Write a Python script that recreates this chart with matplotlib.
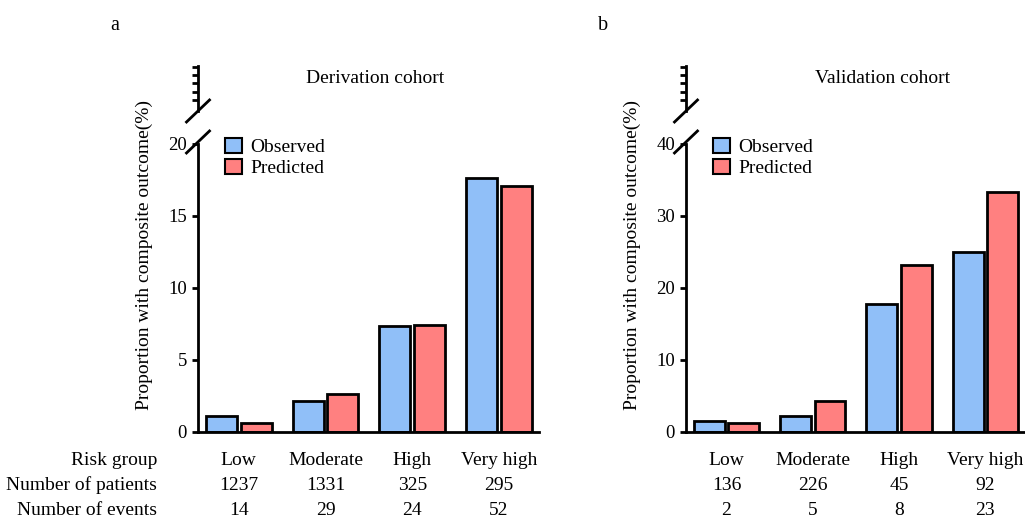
from matplotlib import pyplot as plt
import numpy as np

plt.rcParams['font.family'] = ['Liberation Serif', 'DejaVu Serif']

groups = ['Low', 'Moderate', 'High', 'Very high']

# derivation cohort
der_patients = [1237, 1331, 325, 295]
der_events = [14, 29, 24, 52]
der_observed = [1.13, 2.18, 7.38, 17.63]
der_predicted = [0.65, 2.65, 7.45, 17.05]

# validation cohort
val_patients = [136, 226, 45, 92]
val_events = [2, 5, 8, 23]
val_observed = [1.47, 2.21, 17.78, 25.0]
val_predicted = [1.2, 4.3, 23.2, 33.3]

blue = '#90bff8'
red = '#ff8080'
fs = 14
H = 519.0


def draw_panel(fig, px_left, px_width, observed, predicted, patients, events,
               ymax, yticks, title, title_x, letter, row_labels):
    W = 1025.0
    ax = fig.add_axes([px_left / W, (H - 432) / H, px_width / W, 288 / H])
    x = np.arange(len(groups))
    w = 0.358
    ax.bar(x - 0.2, observed, w, color=blue, edgecolor='black', linewidth=2,
           label='Observed')
    ax.bar(x + 0.2, predicted, w, color=red, edgecolor='black', linewidth=2,
           label='Predicted')
    ax.set_xlim(-0.47, 3.46)
    ax.set_ylim(0, ymax)
    ax.set_yticks(yticks)
    ax.set_xticks([])
    for s in ['top', 'right']:
        ax.spines[s].set_visible(False)
    for s in ['left', 'bottom']:
        ax.spines[s].set_linewidth(2)
    ax.tick_params(axis='y', direction='out', length=4.5, width=2,
                   labelsize=13.5, pad=3.5)
    ax.text(-54 / px_width, 0.616, 'Proportion with composite outcome(%)',
            transform=ax.transAxes, rotation=90, ha='center', va='center',
            fontsize=fs)

    leg = ax.legend(loc='upper left', bbox_to_anchor=(0.079, 1.022),
                    frameon=False, fontsize=fs, borderpad=0,
                    borderaxespad=0, handlelength=0.88, handleheight=0.82,
                    handletextpad=0.42, labelspacing=0.15)
    for h in leg.legend_handles:
        h.set_linewidth(1.5)

    # table under the bars
    trans = ax.get_xaxis_transform()
    rows = [groups, patients, events]
    ys = [-0.1146, -0.2014, -0.2882]
    for r, yy in zip(rows, ys):
        for i, v in enumerate(r):
            ax.text(x[i], yy, str(v), transform=trans, ha='center',
                    va='baseline', fontsize=fs)
    if row_labels:
        for lab, yy in zip(['Risk group', 'Number of patients',
                            'Number of events'], ys):
            ax.text(-41 / px_width, yy, lab, transform=ax.transAxes,
                    ha='right', va='baseline', fontsize=fs)

    ax.text(title_x, 1.212, title, transform=ax.transAxes, ha='center',
            va='baseline', fontsize=fs)
    ax.text(-83 / px_width, 1.396, letter, transform=ax.transAxes,
            ha='center', va='baseline', fontsize=14.5)

    # upper broken segment
    axt = fig.add_axes([px_left / W, (H - 111) / H, px_width / W, 45 / H])
    axt.set_ylim(66, 111)
    axt.invert_yaxis()
    axt.set_xlim(0, 1)
    axt.patch.set_visible(False)
    for s in ['top', 'right', 'bottom']:
        axt.spines[s].set_visible(False)
    axt.spines['left'].set_linewidth(2)
    axt.set_xticks([])
    axt.set_yticks([67, 75, 83, 92, 100])
    axt.set_yticklabels([])
    axt.tick_params(axis='y', direction='out', length=4.5, width=2)

    dx = 11.5 / px_width
    dy = 11 / 288
    ax.plot([-dx, dx], [1.007 - dy, 1.007 + dy], color='black',
            lw=2, transform=ax.transAxes, clip_on=False)
    dyt = 11 / 45
    axt.plot([-dx, dx], [-dyt, dyt], color='black',
             lw=2, transform=axt.transAxes, clip_on=False)
    return ax


fig = plt.figure(figsize=(10.25, 5.19), dpi=100)
draw_panel(fig, 198, 341, der_observed, der_predicted, der_patients,
           der_events, 20, [0, 5, 10, 15, 20], 'Derivation cohort', 0.519,
           'a', True)
draw_panel(fig, 686, 339, val_observed, val_predicted, val_patients,
           val_events, 40, [0, 10, 20, 30, 40], 'Validation cohort', 0.58,
           'b', False)

fig.savefig('out.png', dpi=100)
